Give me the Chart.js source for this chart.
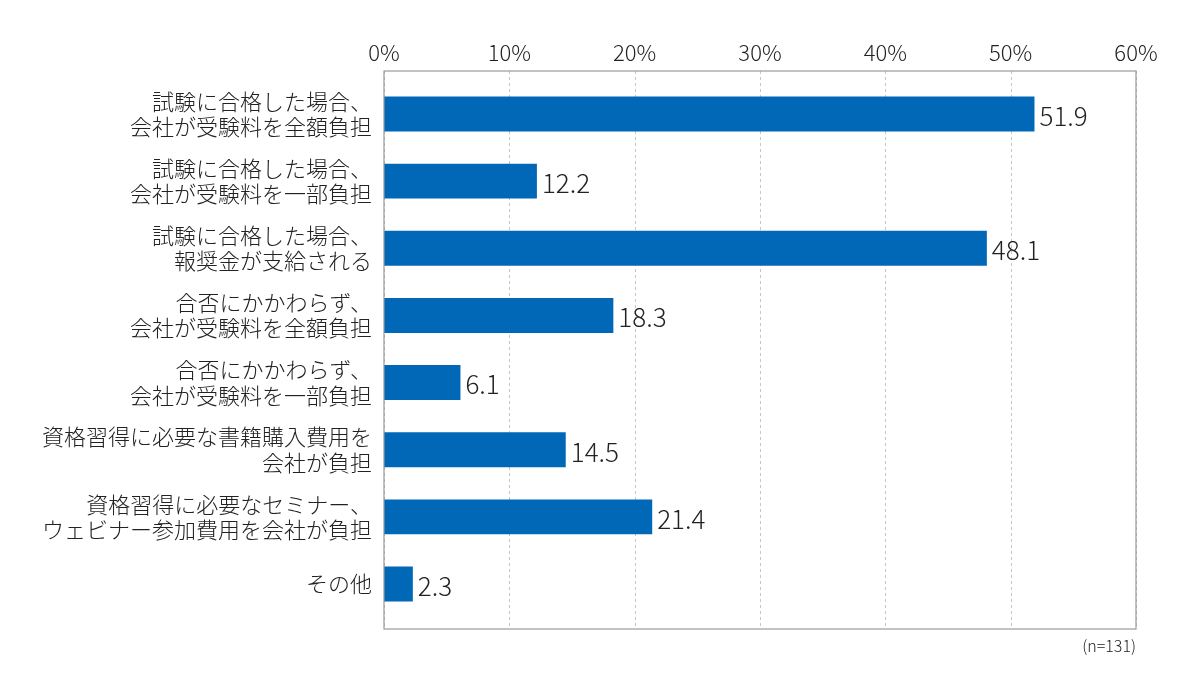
<!DOCTYPE html>
<html>
<head>
<meta charset="utf-8">
<script src="https://cdn.jsdelivr.net/npm/chart.js@4/dist/chart.umd.min.js"></script>
<style>
  html, body { margin: 0; padding: 0; background: #fff; }
  #wrap { width: 1200px; height: 683px; }
</style>
</head>
<body>
<div id="wrap"><canvas id="myChart" width="1200" height="683"></canvas></div>
<script>
var categories = [
	['試験に合格した場合、', '会社が受験料を全額負担'],
	['試験に合格した場合、', '会社が受験料を一部負担'],
	['試験に合格した場合、', '報奨金が支給される'],
	['合否にかかわらず、', '会社が受験料を全額負担'],
	['合否にかかわらず、', '会社が受験料を一部負担'],
	['資格習得に必要な書籍購入費用を', '会社が負担'],
	['資格習得に必要なセミナー、', 'ウェビナー参加費用を会社が負担'],
	'その他'
];
var values = [51.9, 12.2, 48.1, 18.3, 6.1, 14.5, 21.4, 2.3];
var tickValues = [0, 10, 20, 30, 40, 50, 60];
var note = '(n=131)';

var FONT = '"Noto Sans CJK JP", "Noto Sans", sans-serif';
var FRAME_TOP = 71, FRAME_BOTTOM = 629; // frame sticks out a bit past the bar rows

// dotted grid, frame round the plot area, value labels and the n note
var extras = {
	id: 'extras',
	beforeDatasetsDraw: function(chart) {
		var ctx = chart.ctx, x = chart.scales.x;
		ctx.save();
		ctx.strokeStyle = '#c4c4c4';
		ctx.lineWidth = 1;
		ctx.setLineDash([3, 3]);
		tickValues.forEach(function(v) {
			var px = Math.round(x.getPixelForValue(v)) + 0.5;
			ctx.beginPath();
			ctx.moveTo(px, FRAME_TOP);
			ctx.lineTo(px, FRAME_BOTTOM);
			ctx.stroke();
		});
		ctx.restore();
	},
	afterDatasetsDraw: function(chart) {
		var ctx = chart.ctx, a = chart.chartArea;
		ctx.save();
		ctx.strokeStyle = '#9a9a9a';
		ctx.lineWidth = 1.2;
		ctx.strokeRect(a.left, FRAME_TOP, a.right - a.left, FRAME_BOTTOM - FRAME_TOP);

		ctx.fillStyle = '#222';
		ctx.font = '300 26px ' + FONT;
		ctx.textBaseline = 'middle';
		ctx.textAlign = 'left';
		chart.getDatasetMeta(0).data.forEach(function(bar, i) {
			ctx.fillText(values[i].toFixed(1), bar.x + 5, bar.y + 2);
		});

		ctx.font = '300 16px ' + FONT;
		ctx.textAlign = 'right';
		ctx.fillText(note, a.right, FRAME_BOTTOM + 17);
		ctx.restore();
	}
};

var ctx = document.getElementById('myChart');
var chart = new Chart(ctx, {
	type: 'bar',
	data: {
		labels: categories,
		datasets: [{
			data: values,
			backgroundColor: '#0068b7',
			borderWidth: 0,
			barPercentage: 0.52,
			categoryPercentage: 1
		}]
	},
	options: {
		indexAxis: 'y',
		responsive: false,
		animation: false,
		layout: { padding: { top: 0, right: 64, bottom: 65.4, left: 0 } },
		plugins: { legend: { display: false }, tooltip: { enabled: false } },
		scales: {
			x: {
				position: 'top',
				min: 0,
				max: 60,
				afterBuildTicks: function(scale) {
					scale.ticks = tickValues.map(function(v) { return { value: v }; });
				},
				afterFit: function(scale) { scale.height = 80.4; },
				ticks: {
					color: '#222',
					padding: 15,
					font: { family: FONT, size: 22, weight: 300 },
					callback: function(v) { return v + '%'; }
				},
				grid: { display: false, drawTicks: false },
				border: { display: false }
			},
			y: {
				afterFit: function(scale) { scale.width = 384; },
				ticks: {
					color: '#222',
					padding: 12,
					font: { family: FONT, size: 22, weight: 300, lineHeight: 1.15 }
				},
				grid: { display: false, drawTicks: false },
				border: { display: false }
			}
		}
	},
	plugins: [extras]
});
</script>
</body>
</html>
